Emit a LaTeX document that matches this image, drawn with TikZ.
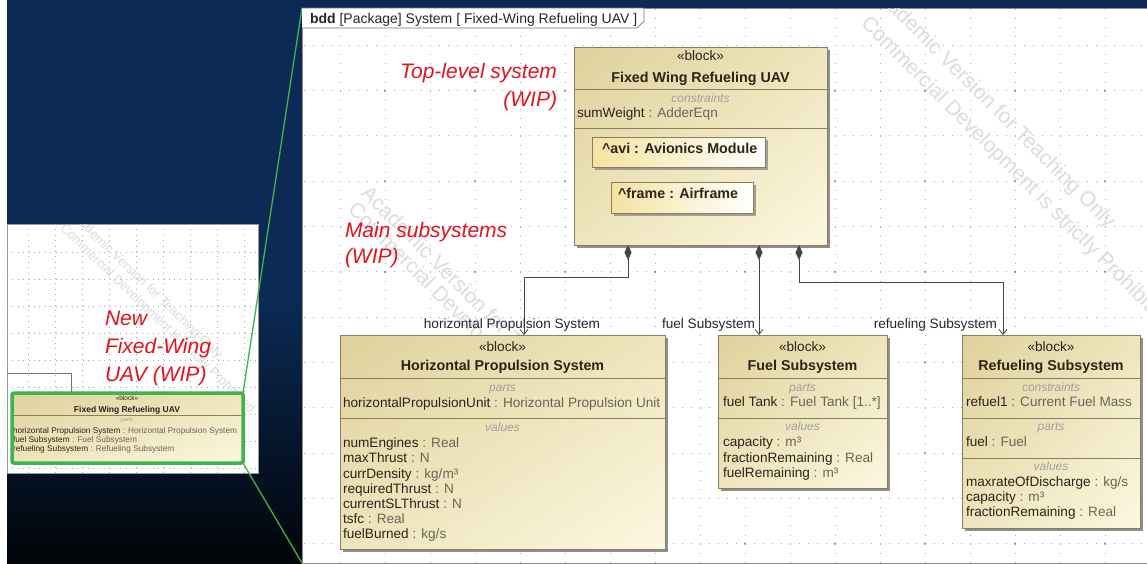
\documentclass[tikz,border=0pt]{standalone}
\usepackage{fontspec}
\setmainfont{Liberation Sans}
\usetikzlibrary{arrows.meta,shadows,shadings}
\definecolor{navyA}{HTML}{0C2A55}
\definecolor{navyC}{HTML}{010408}
\definecolor{wipred}{HTML}{E3121C}
\definecolor{tanA}{HTML}{DFD19C}
\definecolor{tanB}{HTML}{EEE5BD}
\definecolor{tanC}{HTML}{FCF8E0}
\definecolor{partY}{HTML}{F4E3A0}
\definecolor{bordc}{HTML}{8C7D5C}
\definecolor{nameC}{HTML}{2B2418}
\definecolor{typeC}{HTML}{6B6558}
\definecolor{hdrC}{HTML}{A0A0A0}
\definecolor{greenC}{HTML}{3DB54A}
\definecolor{wmC}{HTML}{DCDCDC}
\definecolor{connC}{HTML}{444444}
\newcommand\vt[2]{\textcolor{nameC}{#1} \textcolor{typeC}{: #2}}
\newcommand\fsz[2]{\fontsize{#1}{#2}\selectfont}
\begin{document}
\begin{tikzpicture}[x=1pt,y=-1pt,
  every node/.style={inner sep=0pt, outer sep=0pt},
  blk/.style={draw=bordc, line width=0.7pt, upper left=tanA, upper right=tanB, lower left=tanB, lower right=tanC, anchor=north west, drop shadow={shadow xshift=3pt, shadow yshift=-3pt, fill=black!55, opacity=0.8}},
  partbox/.style={draw=bordc, line width=0.6pt, left color=partY, right color=white, anchor=north west, drop shadow={shadow xshift=2.5pt, shadow yshift=-2.5pt, fill=black!50, opacity=0.7}},
  divl/.style={draw=bordc, line width=0.6pt},
  stereo/.style={font=\fsz{13.6}{15}, text=nameC, anchor=base},
  bname/.style={font=\fsz{14.3}{16}\bfseries, text=nameC, anchor=base},
  chdr/.style={font=\fsz{12}{14}\itshape, text=hdrC, anchor=base},
  item/.style={font=\fsz{13.6}{15}, anchor=base west},
  lbl/.style={font=\fsz{13.6}{15}, text=black!85, anchor=base east},
  wip/.style={font=\fsz{21}{25}\itshape, text=wipred},
  wm/.style={font=\fsz{21}{24}, text=wmC, rotate=-45, anchor=west},
  wms/.style={font=\fsz{13}{15}, text=wmC, rotate=-44, anchor=west},
  gridh/.style={draw=black!35, line width=1pt, dash pattern=on 1pt off 8pt},
  gridv/.style={draw=black!35, line width=1pt, dash pattern=on 1pt off 8.06pt},
  gridi/.style={draw=black!35, line width=0.8pt, dash pattern=on 0.8pt off 4.6pt},
  comp/.style={draw=connC, line width=0.8pt, arrows={Diamond[length=15pt,width=7pt]-Straight Barb[length=5pt,width=8pt]}},
  zoomline/.style={draw=greenC, line width=1.3pt}
]
\useasboundingbox (0,0) rectangle (1147,563);
\fill[white] (0,0) rectangle (1147,563);
% dark backdrop
\fill[navyA] (7,0) rectangle (302,300);
\shade[top color=navyA, bottom color=navyC] (7,299.5) rectangle (302,563);
\fill[navyA] (302,0) rectangle (1147,8);

% ---------------- inset (overview) ----------------
\node[draw=black!40, fill=white, line width=0.6pt, minimum width=251pt, minimum height=249pt, anchor=north west] (inset) at (7,224) {};
\begin{scope}
  \clip (7,224) rectangle (258,473);
  \foreach \i in {0,...,9} \draw[gridi] ({1+27*\i},224) -- ({1+27*\i},473);
  \foreach \j in {1,...,9} \draw[gridi] (7,{225+27*\j}) -- (258,{225+27*\j});
  \node[wms] (iwm1) at (70,212) {Academic Version for Teaching Only};
  \node[wms] (iwm2) at (62,227) {Commercial Development is strictly Prohibited};
\end{scope}
\node[wip, anchor=base west] (inew1) at (105,325) {New};
\node[wip, anchor=base west] (inew2) at (105,353) {Fixed-Wing};
\node[wip, anchor=base west] (inew3) at (105,381) {UAV (WIP)};
\node[draw=greenC, line width=3.5pt, rounded corners=2pt, upper left=tanA, upper right=tanB, lower left=tanB, lower right=tanC, minimum width=231pt, minimum height=70pt, anchor=north west] (gbox) at (12,393) {};
\coordinate (ileft) at (7,373);
\draw[black!55, line width=0.8pt] (ileft) -| ([xshift=59pt]gbox.north west);
\draw[divl] (14,415) -- (241,415);
\node[font=\fsz{6.5}{7}, text=nameC, anchor=base] (ist) at (127,400) {«block»};
\node[font=\fsz{8.5}{9}\bfseries, text=nameC, anchor=base] (inm) at (127,412) {Fixed Wing Refueling UAV};
\node[font=\fsz{5.5}{6}\itshape, text=hdrC, anchor=base] (ipt) at (127,421.5) {parts};
\begin{scope}
  \clip (14,395) rectangle (241,461);
  \node[font=\fsz{8.3}{9}, anchor=base west] (ip1) at (13,433) {\vt{horizontal Propulsion System}{Horizontal Propulsion System}};
  \node[font=\fsz{8.3}{9}, anchor=base west] (ip2) at (13,442) {\vt{fuel Subsystem}{Fuel Subsystem}};
  \node[font=\fsz{8.3}{9}, anchor=base west] (ip3) at (13,451) {\vt{refueling Subsystem}{Refueling Subsystem}};
\end{scope}

% ---------------- main panel ----------------
\node[draw=black!45, fill=white, line width=0.6pt, minimum width=845pt, minimum height=555pt, anchor=north west] (panel) at (302,8) {};
\draw[zoomline] (gbox.north east) -- (panel.north west);
\draw[zoomline] (gbox.south east) -- (panel.south west);

\begin{scope}
  \clip (302.5,8.5) rectangle (1147,563);
  \foreach \i in {-1,...,18} \draw[gridv] ({340+45*\i},0) -- ({340+45*\i},563);
  \foreach \j in {1,...,12} \draw[gridh] (295,{45.3*\j}) -- (1147,{45.3*\j});
  \foreach \i in {0,...,8} \foreach \j in {1,...,6} \fill[black!45] ({385+90*\i},{90.6*\j}) circle (1.2);
  \node[wm] (wm1) at (873,-13) {Academic Version for Teaching Only};
  \node[wm] (wm2) at (864,21) {Commercial Development is strictly Prohibited};
  \node[wm] (wm3) at (364,191) {Academic Version for Teaching Only};
  \node[wm] (wm4) at (351,207) {Commercial Development is strictly Prohibited};
\end{scope}

% frame tab
\draw[black!55, fill=white, line width=0.7pt] (302,8) -- (644,8) -- (644,21) -- (637,28) -- (302,28);
\node[font=\fsz{14}{15}, text=black!85, anchor=base west] (tab) at (310,23.5) {\textbf{bdd} [Package] System [ Fixed-Wing Refueling UAV ]};

% red annotations
\node[wip, anchor=base east] (tl1) at (557,78) {Top-level system};
\node[wip, anchor=base east] (tl2) at (557,106) {(WIP)};
\node[wip, anchor=base west] (ms1) at (345,237) {Main subsystems};
\node[wip, anchor=base west] (ms2) at (345,263) {(WIP)};

% ---------------- top block ----------------
\node[blk, minimum width=253pt, minimum height=198pt] (top) at (574,47) {};
\draw[divl] ([yshift=-42pt]top.north west) -- ([yshift=-42pt]top.north east);
\draw[divl] ([yshift=-81pt]top.north west) -- ([yshift=-81pt]top.north east);
\node[stereo] (topst) at (700.5,60.7) {«block»};
\node[bname] (topnm) at (700.5,82.7) {Fixed Wing Refueling UAV};
\node[chdr] (topch) at (700.5,102.3) {constraints};
\node[item] (topc1) at (577,117.7) {\vt{sumWeight}{AdderEqn}};
\node[partbox, minimum width=173pt, minimum height=30pt] (avi) at (592,137) {};
\node[bname, anchor=base west] (avit) at (602,153.3) {\textasciicircum avi : Avionics Module};
\node[partbox, minimum width=142pt, minimum height=31pt] (frame) at (611,182) {};
\node[bname, anchor=base west] (framet) at (618,198.3) {\textasciicircum frame : Airframe};

% ---------------- Horizontal Propulsion System ----------------
\node[blk, minimum width=325pt, minimum height=214pt] (hps) at (340,335) {};
\draw[divl] ([yshift=-43pt]hps.north west) -- ([yshift=-43pt]hps.north east);
\draw[divl] ([yshift=-83pt]hps.north west) -- ([yshift=-83pt]hps.north east);
\node[stereo] (hpsst) at (502.5,351) {«block»};
\node[bname] (hpsnm) at (502.5,370.5) {Horizontal Propulsion System};
\node[chdr] (hpsph) at (502.5,391) {parts};
\node[item] (hpsp1) at (343,407) {\vt{horizontalPropulsionUnit}{Horizontal Propulsion Unit}};
\node[chdr] (hpsvh) at (502.5,431) {values};
\foreach \t [count=\i] in {\vt{numEngines}{Real}, \vt{maxThrust}{N}, \vt{currDensity}{kg/m³}, \vt{requiredThrust}{N}, \vt{currentSLThrust}{N}, \vt{tsfc}{Real}, \vt{fuelBurned}{kg/s}}
  \node[item] (hpsv\i) at (343,{447.7+15.2*(\i-1)}) {\t};

% ---------------- Fuel Subsystem ----------------
\node[blk, minimum width=169pt, minimum height=153pt] (fuel) at (718,335) {};
\draw[divl] ([yshift=-43pt]fuel.north west) -- ([yshift=-43pt]fuel.north east);
\draw[divl] ([yshift=-83pt]fuel.north west) -- ([yshift=-83pt]fuel.north east);
\node[stereo] (fuelst) at (802.5,351) {«block»};
\node[bname] (fuelnm) at (802.5,370.7) {Fuel Subsystem};
\node[chdr] (fuelph) at (802.5,391) {parts};
\node[item] (fuelp1) at (723,406.7) {\vt{fuel Tank}{Fuel Tank [1..*]}};
\node[chdr] (fuelvh) at (802.5,430.7) {values};
\foreach \t [count=\i] in {\vt{capacity}{m³}, \vt{fractionRemaining}{Real}, \vt{fuelRemaining}{m³}}
  \node[item] (fuelv\i) at (723,{446.7+15.3*(\i-1)}) {\t};

% ---------------- Refueling Subsystem ----------------
\node[blk, minimum width=178pt, minimum height=193pt] (ref) at (962,335) {};
\draw[divl] ([yshift=-43pt]ref.north west) -- ([yshift=-43pt]ref.north east);
\draw[divl] ([yshift=-83pt]ref.north west) -- ([yshift=-83pt]ref.north east);
\draw[divl] ([yshift=-123pt]ref.north west) -- ([yshift=-123pt]ref.north east);
\node[stereo] (refst) at (1051,351.5) {«block»};
\node[bname] (refnm) at (1051,370.7) {Refueling Subsystem};
\node[chdr] (refch) at (1051,391) {constraints};
\node[item] (refc1) at (966,406.7) {\vt{refuel1}{Current Fuel Mass}};
\node[chdr] (refph) at (1051,430.7) {parts};
\node[item] (refp1) at (966,446.7) {\vt{fuel}{Fuel}};
\node[chdr] (refvh) at (1051,470.7) {values};
\foreach \t [count=\i] in {\vt{maxrateOfDischarge}{kg/s}, \vt{capacity}{m³}, \vt{fractionRemaining}{Real}}
  \node[item] (refv\i) at (966,{486.7+15*(\i-1)}) {\t};

% ---------------- composition connectors ----------------
\draw[comp] ([xshift=54pt]top.south west) -- ++(0,32) -| ([xshift=184pt]hps.north west);
\draw[comp] ([xshift=185pt]top.south west) -- ([xshift=41pt]fuel.north west);
\draw[comp] ([xshift=225pt]top.south west) -- ++(0,37) -| ([xshift=41pt]ref.north west);
\node[lbl] (l1) at (600,328) {horizontal Propulsion System};
\node[lbl] (l2) at (755,328) {fuel Subsystem};
\node[lbl] (l3) at (997,328) {refueling Subsystem};
\end{tikzpicture}
\end{document}
